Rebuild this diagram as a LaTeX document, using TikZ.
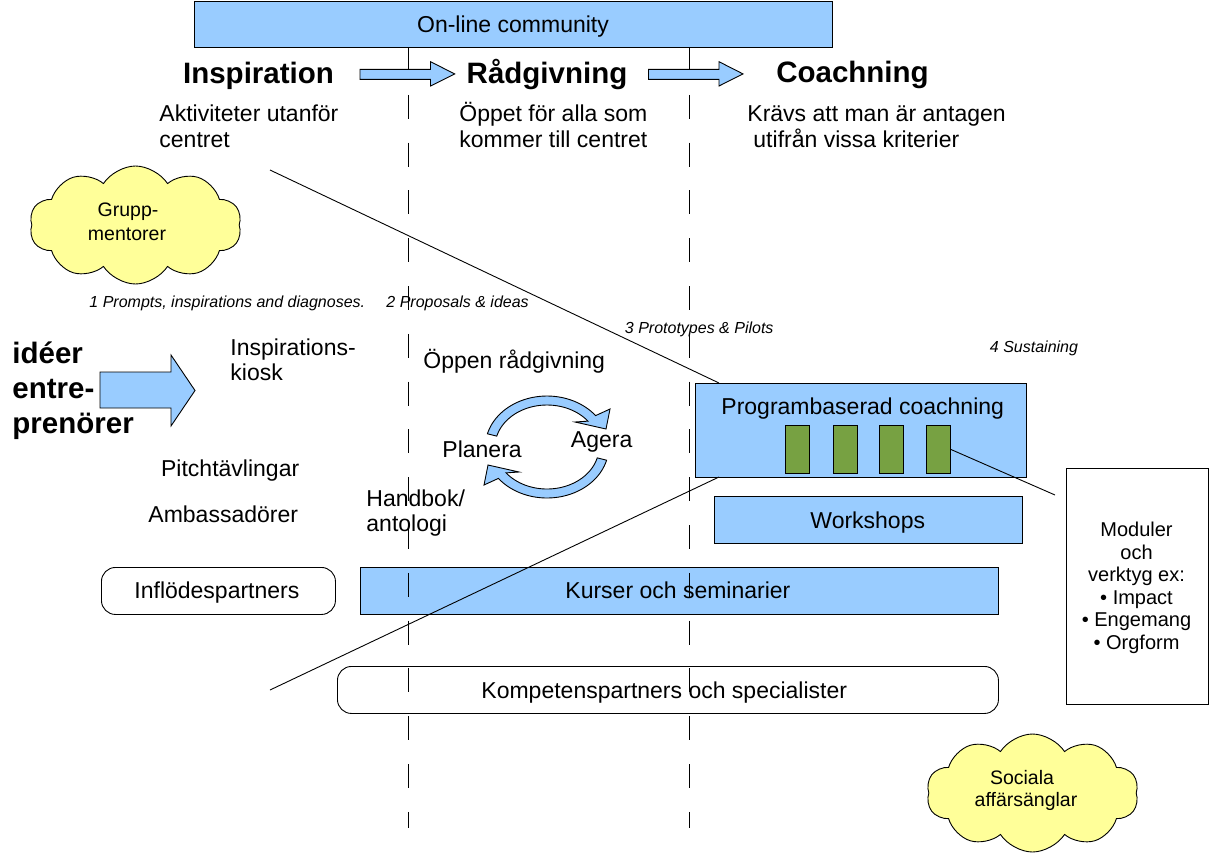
\documentclass[tikz,border=0pt]{standalone}
\usepackage{fontspec}
\setmainfont{Liberation Sans}
\usetikzlibrary{shapes.symbols}
\definecolor{boxblue}{HTML}{99CCFF}
\definecolor{cloudyel}{HTML}{FFFF99}
\definecolor{modgreen}{RGB}{119,161,66}
\newcommand\myfs[1]{\fontsize{#1}{#1}\selectfont}
\begin{document}
\begin{tikzpicture}[x=1pt,y=-1pt,line width=0.9pt,
  box/.style={draw,fill=boxblue,rectangle,inner sep=0pt,anchor=north west},
  rbox/.style={draw,fill=white,rectangle,rounded corners=14pt,inner sep=0pt,anchor=north west},
  wbox/.style={draw,fill=white,rectangle,inner sep=0pt,anchor=north west},
  gbox/.style={draw,fill=modgreen,rectangle,inner sep=0pt,anchor=north west,minimum width=24pt,minimum height=48pt},
  blockarrow/.style={draw,fill=boxblue,line join=miter},
  cloudy/.style={cloud,draw,fill=cloudyel,cloud puffs=10,cloud puff arc=115,inner sep=0pt},
  txt/.style={inner sep=0pt,font=\myfs{23}},
  hd/.style={inner sep=0pt,font=\myfs{29.5}\bfseries},
  sm/.style={inner sep=0pt,font=\myfs{16}\itshape},
  ct/.style={inner sep=0pt,font=\myfs{19.5}},
  mt/.style={inner sep=0pt,font=\myfs{20}},
  phase/.style={dash pattern=on 24pt off 23.8pt},
  link/.style={draw}
]
\useasboundingbox (0,0) rectangle (1209,852);

% boxes
\node[box,minimum width=638pt,minimum height=46.5pt] (top) at (194,0.5) {};
\node[box,minimum width=638pt,minimum height=47pt] (kurser) at (360,567) {};
\node[rbox,minimum width=234pt,minimum height=47pt] (inflod) at (101,567) {};
\node[rbox,minimum width=661pt,minimum height=47pt] (kompet) at (337,666) {};
\node[box,minimum width=331pt,minimum height=94pt] (prog) at (695,383) {};
\node[box,minimum width=308pt,minimum height=47pt] (work) at (714,496) {};
\node[wbox,minimum width=142pt,minimum height=236pt] (modul) at (1066,468) {};
\node[gbox] (g1) at (785,425) {};
\node[gbox] (g2) at (832.5,425) {};
\node[gbox] (g3) at (879,425) {};
\node[gbox] (g4) at (926,425) {};

% clouds
\node[cloudy,minimum width=212pt,minimum height=118pt] (c1) at (135.5,225) {};
\node[cloudy,minimum width=212pt,minimum height=118pt] (c2) at (1032.5,793) {};

% phase separators
\coordinate (v1t) at (408,47); \coordinate (v1b) at (408,828);
\coordinate (v2t) at (689,47); \coordinate (v2b) at (689,828);
\draw[phase] (v1t) -- (v1b);
\draw[phase] (v2t) -- (v2b);

% diagonal lines
\coordinate (d1s) at (270,170); \coordinate (d1e) at (719,383);
\coordinate (d2s) at (270,690); \coordinate (d2e) at (719,477);
\draw[link] (d1s) -- (d1e);
\draw[link] (d2s) -- (d2e);
\coordinate (m1) at (1055,495);
\draw[link] (g4.east) -- (m1);

% block arrows
\path[blockarrow] (360,69.3) -- (430.5,69.3) -- (430.5,61.7) -- (454.7,73.9) -- (430.5,86) -- (430.5,79.3) -- (360,79.3) -- cycle;
\path[blockarrow] (648.5,69.3) -- (719,69.3) -- (719,61.7) -- (743,73.9) -- (719,86) -- (719,79.3) -- (648.5,79.3) -- cycle;
\path[blockarrow] (100,372) -- (171,372) -- (171,355) -- (195,390.5) -- (171,426) -- (171,408) -- (100,408) -- cycle;

% cycle arrows
\path[blockarrow] plot[domain=165:38,samples=40] ({547+61.7*cos(\x)},{447-51*sin(\x)})
  -- (610,409) -- (606,429) -- (575,422)
  -- plot[domain=38:165,samples=40] ({547+52*cos(\x)},{447-42*sin(\x)}) -- cycle;
\path[blockarrow] plot[domain=-15:-142,samples=40] ({547+61.7*cos(\x)},{447-51*sin(\x)})
  -- (484,485) -- (488,465) -- (519,472)
  -- plot[domain=-142:-15,samples=40] ({547+52*cos(\x)},{447-42*sin(\x)}) -- cycle;

% texts
\node[txt,anchor=base] (tonline) at (513,32) {On-line community};
\node[hd,anchor=base] (hinsp) at (258.5,83) {Inspiration};
\node[hd,anchor=base] (hrad) at (547,83) {Rådgivning};
\node[hd,anchor=base] (hcoach) at (852.5,82) {Coachning};
\node[txt,anchor=base west] (a1) at (159,121) {Aktiviteter utanför};
\node[txt,anchor=base west] (a2) at (159,147) {centret};
\node[txt,anchor=base west] (b1) at (459,121) {Öppet för alla som};
\node[txt,anchor=base west] (b2) at (459,147) {kommer till centret};
\node[txt,anchor=base west] (k1) at (747,121) {Krävs att man är antagen};
\node[txt,anchor=base west] (k2) at (753,147) {utifrån vissa kriterier};

\node[ct,anchor=base] (gm1) at (128,216) {Grupp-};
\node[ct,anchor=base] (gm2) at (127,240) {mentorer};
\node[ct,anchor=base] (sa1) at (1022,784) {Sociala};
\node[ct,anchor=base] (sa2) at (1026,806) {affärsänglar};

\node[sm,anchor=base west] (s1) at (89,307) {1 Prompts, inspirations and diagnoses.};
\node[sm,anchor=base west] (s2) at (386,307) {2 Proposals \& ideas};
\node[sm,anchor=base west] (s3) at (624.5,333) {3 Prototypes \& Pilots};
\node[sm,anchor=base west] (s4) at (989.5,352) {4 Sustaining};

\node[hd,anchor=base west] (i1) at (12,363) {idéer};
\node[hd,anchor=base west] (i2) at (12,398) {entre-};
\node[hd,anchor=base west] (i3) at (12,433) {prenörer};

\node[txt,anchor=base west] (ik1) at (230,355) {Inspirations-};
\node[txt,anchor=base west] (ik2) at (230,380) {kiosk};
\node[txt,anchor=base west] (opr) at (423,368) {Öppen rådgivning};
\node[txt,anchor=base west] (plan) at (442,457) {Planera};
\node[txt,anchor=base west] (ager) at (570.5,447) {Agera};
\node[txt,anchor=base west] (pitch) at (160.7,476) {Pitchtävlingar};
\node[txt,anchor=base west] (amb) at (148,522) {Ambassadörer};
\node[txt,anchor=base west] (hb1) at (366,506) {Handbok/};
\node[txt,anchor=base west] (hb2) at (366,531) {antologi};

\node[txt,anchor=base west] (tinf) at (134,598) {Inflödespartners};
\node[txt,anchor=base west] (tkur) at (565,598) {Kurser och seminarier};
\node[txt,anchor=base west] (tkom) at (481,698) {Kompetenspartners och specialister};
\node[txt,anchor=base west] (tprog) at (721,414) {Programbaserad coachning};
\node[txt,anchor=base west] (twork) at (810,528) {Workshops};

\node[mt,anchor=base] (mo1) at (1136.5,536.7) {Moduler};
\node[mt,anchor=base] (mo2) at (1136.5,559) {och};
\node[mt,anchor=base] (mo3) at (1136.5,581.5) {verktyg ex:};
\node[mt,anchor=base] (mo4) at (1136.5,604) {• Impact};
\node[mt,anchor=base] (mo5) at (1136.5,626.5) {• Engemang};
\node[mt,anchor=base] (mo6) at (1136.5,649) {• Orgform};
\end{tikzpicture}
\end{document}
